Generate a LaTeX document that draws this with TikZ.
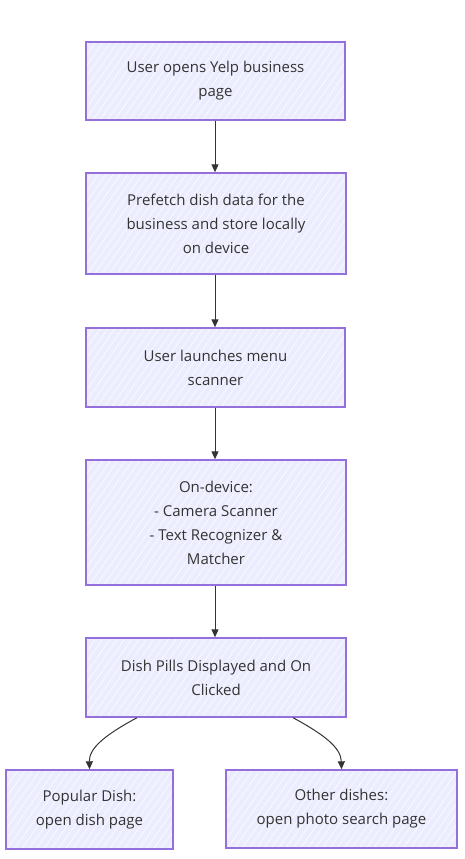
\documentclass[tikz,border=0pt]{standalone}
\usepackage{fontspec}
\setmainfont{Open Sans}
\usetikzlibrary{arrows.meta,patterns.meta}
\definecolor{boxfill}{HTML}{ECECFF}
\definecolor{boxline}{HTML}{9370DB}
\definecolor{txt}{HTML}{333333}
\tikzset{
  flowbox/.style={draw=boxline, line width=1.4pt,
    preaction={fill=boxfill},
    preaction={pattern={Lines[angle=55,distance=6pt,line width=0.5pt]}, pattern color=white},
    align=center, text=txt, inner sep=0pt,
    font=\fontsize{15}{24}\selectfont},
  link/.style={draw=txt, line width=1pt, -{Triangle[length=8pt,width=7pt]}}
}
\begin{document}
\begin{tikzpicture}[x=1pt,y=-1pt]
\useasboundingbox (0,0) rectangle (465,859);
\node[flowbox, minimum width=259pt, minimum height=78pt] (a) at (215.5,81) {User opens Yelp business\\page};
\node[flowbox, minimum width=260pt, minimum height=101pt] (b) at (216,223.5) {Prefetch dish data for the\\business and store locally\\on device};
\node[flowbox, minimum width=259pt, minimum height=79pt] (c) at (215.5,367.5) {User launches menu\\scanner};
\node[flowbox, minimum width=260pt, minimum height=125pt] (d) at (216,522.5) {On-device:\\- Camera Scanner\\- Text Recognizer \&\\Matcher};
\node[flowbox, minimum width=260pt, minimum height=79pt] (e) at (216,677.5) {Dish Pills Displayed and On\\Clicked};
\node[flowbox, minimum width=167pt, minimum height=79pt] (f) at (89.5,809.5) {Popular Dish:\\open dish page};
\node[flowbox, minimum width=231pt, minimum height=78pt] (g) at (341.5,809) {Other dishes:\\open photo search page};
\draw[link] (a.south -| 215,0) -- (b.north -| 215,0);
\draw[link] (b.south -| 215,0) -- (c.north -| 215,0);
\draw[link] (c.south -| 215,0) -- (d.north -| 215,0);
\draw[link] (d.south -| 215,0) -- (e.north -| 215,0);
\coordinate (e1) at (e.south -| 137,0);
\coordinate (e2) at (e.south -| 293,0);
\draw[link] (e1) .. controls (105,735) and (89,748) .. (f.north);
\draw[link] (e2) .. controls (325,735) and (341,748) .. (g.north);
\end{tikzpicture}
\end{document}
